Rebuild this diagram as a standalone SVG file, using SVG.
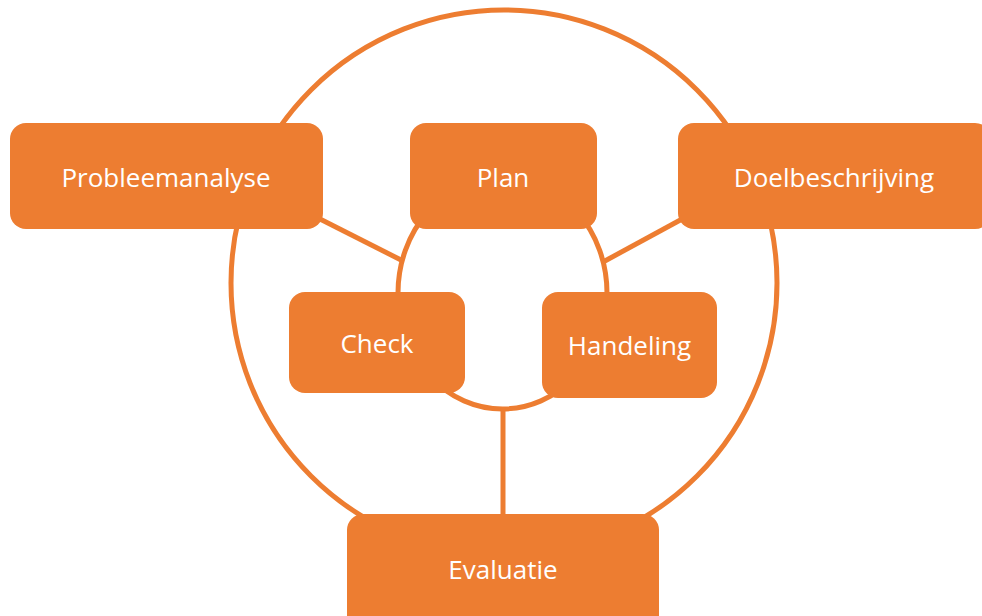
<svg xmlns="http://www.w3.org/2000/svg" width="982" height="616" viewBox="0 0 982 616">
  <style>
    .ring { fill: none; stroke: #ED7D31; stroke-width: 5; }
    .link { stroke: #ED7D31; stroke-width: 5; fill: none; }
    .box { fill: #ED7D31; }
    .lbl { font-family: "Open Sans", "Liberation Sans", sans-serif; font-size: 26px; fill: #FFFFFF; text-anchor: middle; }
  </style>
  <rect width="982" height="616" fill="#FFFFFF"/>
  <g id="connectors">
    <circle class="ring" cx="504" cy="283" r="273"/>
    <ellipse class="ring" cx="502.5" cy="293" rx="104.5" ry="116"/>
    <line class="link" x1="318" y1="218" x2="403" y2="261"/>
    <line class="link" x1="684" y1="218" x2="603" y2="262"/>
    <line class="link" x1="503" y1="408" x2="503" y2="520"/>
  </g>
  <g id="probleemanalyse">
    <rect class="box" x="10" y="123" width="313" height="106" rx="16"/>
    <text class="lbl" x="166" y="187">Probleemanalyse</text>
  </g>
  <g id="plan">
    <rect class="box" x="410" y="123" width="187" height="106" rx="16"/>
    <text class="lbl" x="503" y="187">Plan</text>
  </g>
  <g id="doelbeschrijving">
    <rect class="box" x="678" y="123" width="313" height="106" rx="16"/>
    <text class="lbl" x="834" y="187">Doelbeschrijving</text>
  </g>
  <g id="check">
    <rect class="box" x="289" y="292" width="176" height="101" rx="16"/>
    <text class="lbl" x="377" y="353">Check</text>
  </g>
  <g id="handeling">
    <rect class="box" x="542" y="292" width="175" height="106" rx="16"/>
    <text class="lbl" x="629.5" y="355">Handeling</text>
  </g>
  <g id="evaluatie">
    <rect class="box" x="347" y="514" width="312" height="120" rx="16"/>
    <text class="lbl" x="503" y="579">Evaluatie</text>
  </g>
</svg>
